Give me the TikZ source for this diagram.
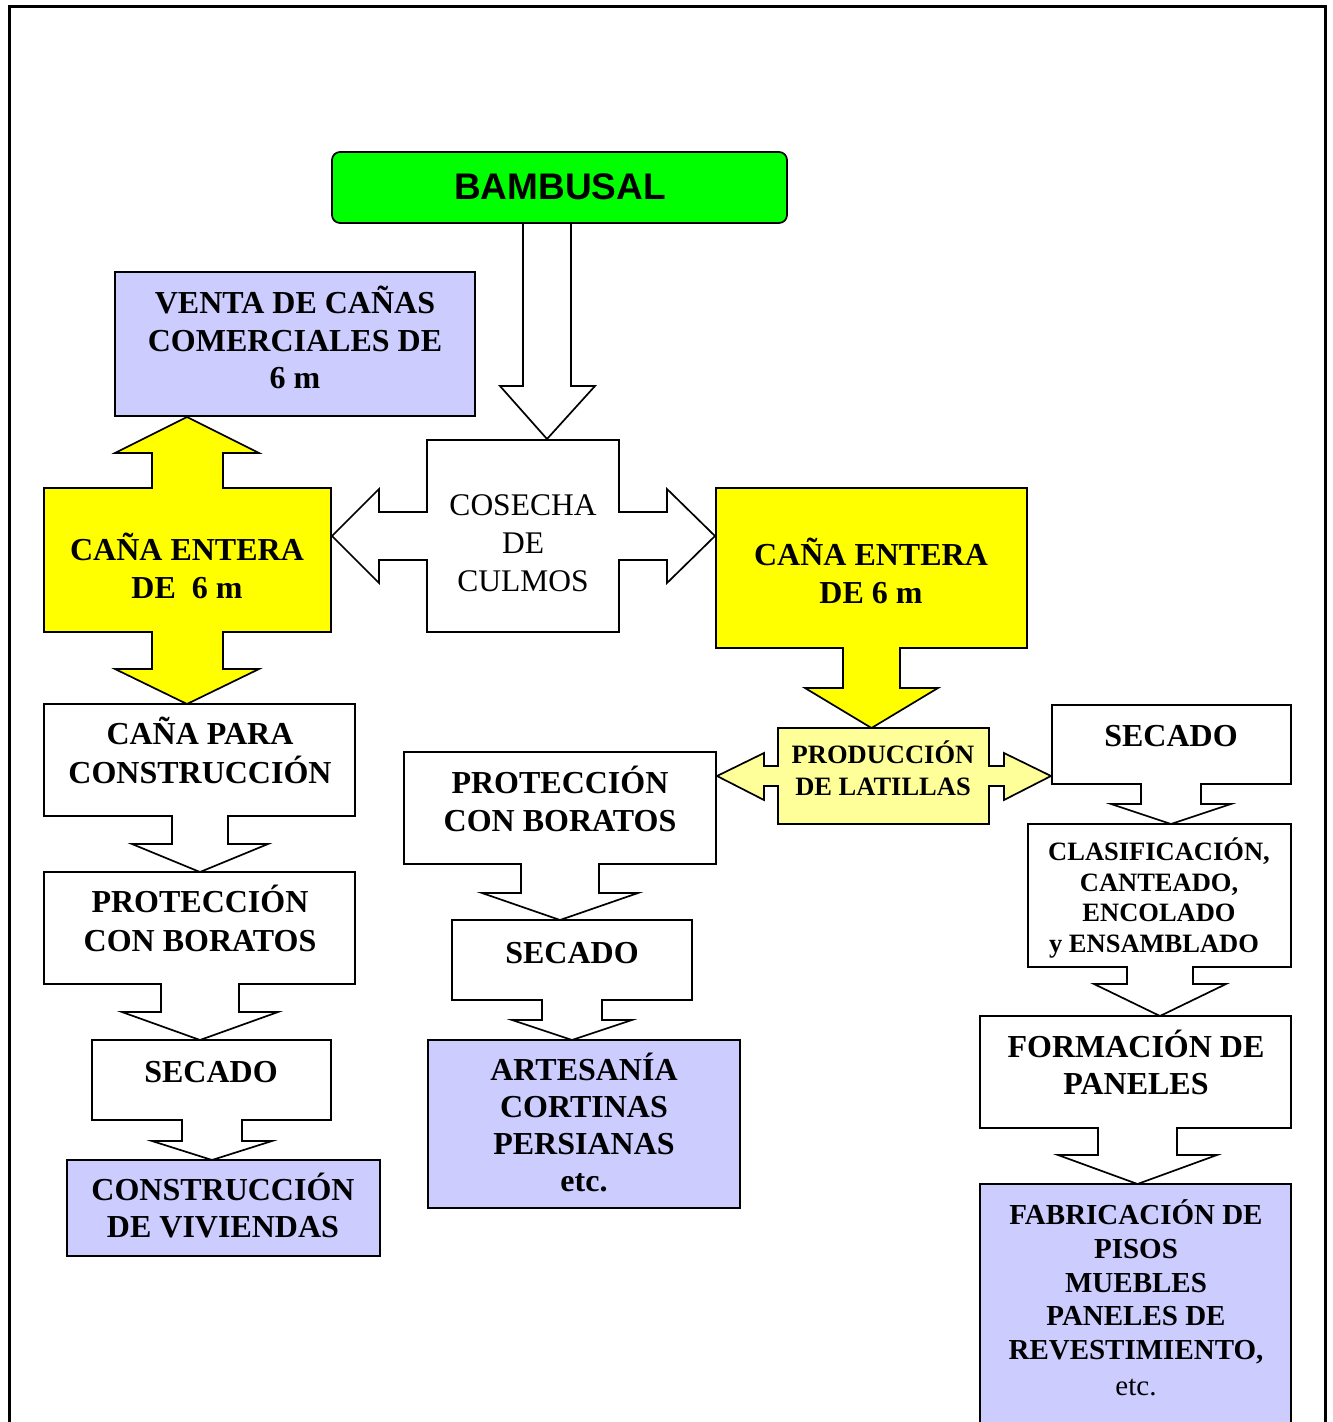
\documentclass[tikz,border=0pt]{standalone}
\usepackage{fontspec}
\setmainfont{Liberation Serif}
\newfontfamily\arialfont{Liberation Sans}
\definecolor{bgreen}{RGB}{0,255,0}
\definecolor{lav}{RGB}{204,204,255}
\definecolor{yel}{RGB}{255,255,0}
\definecolor{pyel}{RGB}{255,255,153}
\tikzset{
 shp/.style={draw=black, line width=1.7pt, line join=miter},
 txtb/.style={anchor=base, inner sep=0pt, font=\bfseries\fontsize{32}{38}\selectfont},
 txtm/.style={anchor=base, inner sep=0pt, font=\bfseries\fontsize{26.5}{31}\selectfont},
 txtf/.style={anchor=base, inner sep=0pt, font=\bfseries\fontsize{29}{34}\selectfont},
 txtff/.style={anchor=base, inner sep=0pt, font=\fontsize{29}{34}\selectfont},
 txtr/.style={anchor=base, inner sep=0pt, font=\fontsize{31.5}{37}\selectfont},
}
\begin{document}
\begin{tikzpicture}[x=1pt,y=-1pt]
\useasboundingbox (0,0) rectangle (1333,1422);
% frame
\draw[line width=2.4pt] (9.5,1422) -- (9.5,6.5) -- (1325.5,6.5) -- (1325.5,1422);

% arrow from BAMBUSAL
\draw[shp, fill=white] (523,223) -- (523,386) -- (500,386) -- (547,439) -- (595,386) -- (571,386) -- (571,223) -- cycle;
% BAMBUSAL
\draw[shp, fill=bgreen, rounded corners=8pt] (332,152) rectangle (787,223);
\node[anchor=base, inner sep=0pt, font=\arialfont\bfseries\fontsize{37}{40}\selectfont] (bamb) at (560,199) {BAMBUSAL};

% VENTA
\draw[shp, fill=lav] (115,272) rectangle (475,416);
\node[txtb] (venta1) at (295,313) {VENTA DE CAÑAS};
\node[txtb] (venta2) at (295,351) {COMERCIALES DE};
\node[txtb] (venta3) at (295,388) {6 m};

% Left yellow up-down callout
\draw[shp, fill=yel] (44,488) -- (152,488) -- (152,453) -- (115,453) -- (187,417) -- (259,453) -- (223,453) -- (223,488) -- (331,488) -- (331,632) -- (223,632) -- (223,669) -- (259,669) -- (187,704) -- (115,669) -- (152,669) -- (152,632) -- (44,632) -- cycle;
\node[txtb] (cel1) at (187,560) {CAÑA ENTERA};
\node[txtb] (cel2) at (187,598) {DE~ 6 m};

% COSECHA left-right callout
\draw[shp, fill=white] (427,440) -- (619,440) -- (619,512) -- (667,512) -- (667,489) -- (715,536) -- (667,583) -- (667,560) -- (619,560) -- (619,632) -- (427,632) -- (427,560) -- (379,560) -- (379,583) -- (332,536) -- (379,489) -- (379,512) -- (427,512) -- cycle;
\node[txtr] (cos1) at (523,515) {COSECHA};
\node[txtr] (cos2) at (523,553) {DE};
\node[txtr] (cos3) at (523,591) {CULMOS};

% Right yellow down callout
\draw[shp, fill=yel] (716,488) -- (1027,488) -- (1027,648) -- (900,648) -- (900,688) -- (938,688) -- (871.5,728) -- (805,688) -- (843,688) -- (843,648) -- (716,648) -- cycle;
\node[txtb] (cer1) at (871,565) {CAÑA ENTERA};
\node[txtb] (cer2) at (871,603) {DE 6 m};

% PRODUCCION left-right callout
\draw[shp, fill=pyel] (778,728) -- (989,728) -- (989,766) -- (1004,766) -- (1004,753) -- (1051,776) -- (1004,800) -- (1004,786) -- (989,786) -- (989,824) -- (778,824) -- (778,786) -- (764,786) -- (764,800) -- (717,776) -- (764,753) -- (764,766) -- (778,766) -- cycle;
\node[txtm] (prod1) at (883,763) {PRODUCCIÓN};
\node[txtm] (prod2) at (883,795) {DE LATILLAS};

% Right SECADO
\draw[shp, fill=white] (1052,705) -- (1291,705) -- (1291,784) -- (1201,784) -- (1201,804) -- (1231,804) -- (1171,824) -- (1111,804) -- (1141,804) -- (1141,784) -- (1052,784) -- cycle;
\node[txtb] (secr) at (1171,746) {SECADO};

% CLASIFICACION
\draw[shp, fill=white] (1028,824) -- (1291,824) -- (1291,967) -- (1193,967) -- (1193,984) -- (1226,984) -- (1160,1016) -- (1094,984) -- (1127,984) -- (1127,967) -- (1028,967) -- cycle;
\node[txtm] (cla1) at (1159,860) {CLASIFICACIÓN,};
\node[txtm] (cla2) at (1159,891) {CANTEADO,};
\node[txtm] (cla3) at (1159,921) {ENCOLADO};
\node[txtm] (cla4) at (1154,952) {y ENSAMBLADO};

% FORMACION
\draw[shp, fill=white] (980,1016) -- (1291,1016) -- (1291,1128) -- (1177,1128) -- (1177,1155) -- (1217,1155) -- (1137.5,1184) -- (1058,1155) -- (1098,1155) -- (1098,1128) -- (980,1128) -- cycle;
\node[txtb] (for1) at (1136,1057) {FORMACIÓN DE};
\node[txtb] (for2) at (1136,1094) {PANELES};

% FABRICACION
\draw[shp, fill=lav] (980,1430) -- (980,1184) -- (1291,1184) -- (1291,1430);
\node[txtf] (fab1) at (1136,1224) {FABRICACIÓN DE};
\node[txtf] (fab2) at (1136,1258) {PISOS};
\node[txtf] (fab3) at (1136,1292) {MUEBLES};
\node[txtf] (fab4) at (1136,1325) {PANELES DE};
\node[txtf] (fab5) at (1136,1359) {REVESTIMIENTO,};
\node[txtff] (fab6) at (1136,1395) {etc.};

% Left column
\draw[shp, fill=white] (44,704) -- (355,704) -- (355,816) -- (228,816) -- (228,844) -- (268,844) -- (200,872) -- (132,844) -- (172,844) -- (172,816) -- (44,816) -- cycle;
\node[txtb] (cpc1) at (200,744) {CAÑA PARA};
\node[txtb] (cpc2) at (200,783) {CONSTRUCCIÓN};

\draw[shp, fill=white] (44,872) -- (355,872) -- (355,984) -- (239,984) -- (239,1012) -- (278,1012) -- (200,1040) -- (122,1012) -- (161,1012) -- (161,984) -- (44,984) -- cycle;
\node[txtb] (pbl1) at (200,912) {PROTECCIÓN};
\node[txtb] (pbl2) at (200,951) {CON BORATOS};

\draw[shp, fill=white] (92,1040) -- (331,1040) -- (331,1120) -- (242,1120) -- (242,1141) -- (272,1141) -- (212,1160) -- (152,1141) -- (182,1141) -- (182,1120) -- (92,1120) -- cycle;
\node[txtb] (secl) at (211,1082) {SECADO};

\draw[shp, fill=lav] (67,1160) rectangle (380,1256);
\node[txtb] (viv1) at (223,1200) {CONSTRUCCIÓN};
\node[txtb] (viv2) at (223,1237) {DE VIVIENDAS};

% Middle column
\draw[shp, fill=white] (404,752) -- (716,752) -- (716,864) -- (599,864) -- (599,893) -- (638,893) -- (560,920) -- (482,893) -- (521,893) -- (521,864) -- (404,864) -- cycle;
\node[txtb] (pbm1) at (560,793) {PROTECCIÓN};
\node[txtb] (pbm2) at (560,831) {CON BORATOS};

\draw[shp, fill=white] (452,920) -- (692,920) -- (692,1000) -- (602,1000) -- (602,1020) -- (632,1020) -- (572,1040) -- (512,1020) -- (542,1020) -- (542,1000) -- (452,1000) -- cycle;
\node[txtb] (secm) at (572,963) {SECADO};

\draw[shp, fill=lav] (428,1040) rectangle (740,1208);
\node[txtb] (art1) at (584,1080) {ARTESANÍA};
\node[txtb] (art2) at (584,1117) {CORTINAS};
\node[txtb] (art3) at (584,1154) {PERSIANAS};
\node[txtb] (art4) at (584,1191) {etc.};
\end{tikzpicture}
\end{document}
